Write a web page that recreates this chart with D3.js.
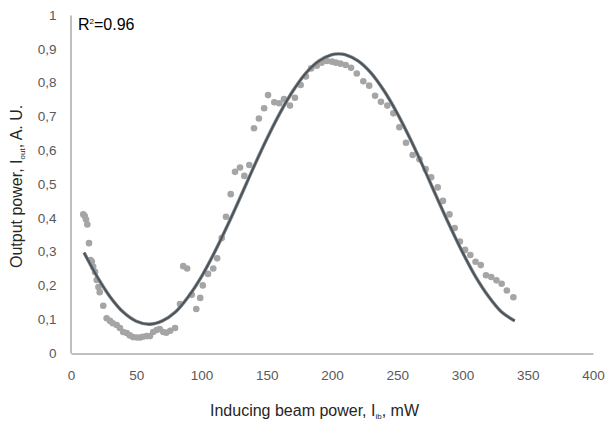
<!DOCTYPE html>
<html>
<head>
<meta charset="utf-8">
<script src="https://cdn.jsdelivr.net/npm/d3@7"></script>
<style>
  body { margin: 0; background: #fff; }
  svg { font-family: "Liberation Sans", Arial, sans-serif; }
</style>
</head>
<body>
<svg id="chart" width="606" height="423"></svg>
<script>
// measured points (inducing beam power, mW)
const xVals = [9.4, 10.5, 11.5, 12.5, 13.8, 15, 16, 17, 18.4, 19.7, 21, 22, 24.7, 27.3, 29.9, 32, 35, 37.5, 40, 42.7,
  45, 47.5, 50.5, 53, 55, 58, 60.5, 63, 65.7, 68, 70.7, 73, 76, 79.7, 83.5, 86, 89, 92.5, 96, 99,
  101, 105, 109, 112, 115.5, 118.8, 122.4, 125.7, 129.5, 132.8, 136.6, 140.2, 144, 148, 151, 155.8, 159.6, 163.2, 167.8, 171.6,
  176, 180, 184, 188.3, 192, 196, 200, 203, 206.5, 210.5, 214.6, 219, 224, 228.5, 233, 237.5, 242.4, 247, 251.6, 256.7,
  261.8, 267, 271.8, 276, 281, 285, 290, 294, 298, 302, 306, 310, 314, 318, 322, 326, 330, 334, 339];
// measured output power, A. U.
const yVals = [0.41, 0.405, 0.395, 0.38, 0.325, 0.275, 0.27, 0.255, 0.24, 0.216, 0.195, 0.18, 0.14, 0.103, 0.095, 0.088, 0.083, 0.074, 0.062, 0.059,
  0.052, 0.047, 0.046, 0.046, 0.048, 0.05, 0.05, 0.062, 0.068, 0.071, 0.062, 0.06, 0.066, 0.074, 0.145, 0.257, 0.25, 0.172, 0.13, 0.163,
  0.2, 0.234, 0.25, 0.28, 0.34, 0.403, 0.47, 0.536, 0.549, 0.524, 0.556, 0.665, 0.694, 0.724, 0.763, 0.742, 0.739, 0.751, 0.732, 0.755,
  0.793, 0.818, 0.842, 0.85, 0.859, 0.864, 0.862, 0.859, 0.856, 0.852, 0.844, 0.827, 0.804, 0.791, 0.761, 0.743, 0.732, 0.709, 0.668, 0.622,
  0.586, 0.573, 0.544, 0.52, 0.49, 0.45, 0.41, 0.37, 0.33, 0.305, 0.29, 0.27, 0.26, 0.23, 0.225, 0.215, 0.205, 0.185, 0.165];

// fitted trend line
const fitX = [10, 20, 30, 40, 50, 60, 70, 80, 90, 100, 110, 120, 130, 140, 150, 160, 170, 180, 190, 200, 205,
  210, 220, 230, 240, 250, 260, 270, 280, 290, 300, 310, 320, 330, 340];
const fitY = [0.297, 0.226, 0.166, 0.121, 0.094, 0.085, 0.095, 0.121, 0.167, 0.226, 0.298, 0.378, 0.463, 0.550, 0.633, 0.709, 0.775, 0.828, 0.864, 0.883, 0.885,
  0.883, 0.864, 0.828, 0.775, 0.709, 0.633, 0.550, 0.463, 0.378, 0.298, 0.226, 0.167, 0.121, 0.095];

const xTicks = [0, 50, 100, 150, 200, 250, 300, 350, 400];
const yTicks = [0, 0.1, 0.2, 0.3, 0.4, 0.5, 0.6, 0.7, 0.8, 0.9, 1];

const svg = d3.select("#chart");

var xScale = d3.scaleLinear().domain([0, 400]).range([71, 593]);
var yScale = d3.scaleLinear().domain([0, 1]).range([353, 15]);

// ###########################################
// axes
svg.append("g")
  .attr("class", "x_axis")
  .attr("transform", "translate(0,353.5)")
  .call(d3.axisBottom(xScale).tickValues(xTicks).tickSize(0).tickPadding(16.5))
  .call(g => g.select(".domain").attr("stroke", "#bfbfbf").attr("stroke-width", 2))
  .selectAll("text")
  .style("font-size", "13.5px")
  .attr("fill", "#595959");

svg.append("g")
  .attr("class", "y_axis")
  .attr("transform", "translate(70.5,0)")
  .call(d3.axisLeft(yScale).tickValues(yTicks).tickSize(0).tickPadding(14)
    .tickFormat(d => String(d).replace(".", ",")))
  .call(g => g.select(".domain").attr("stroke", "#bfbfbf").attr("stroke-width", 2))
  .selectAll("text")
  .style("font-size", "13.5px")
  .attr("fill", "#595959");

// ###########################################
// data points
const pts = xVals.map((x, i) => ({x: x, y: yVals[i]}));
svg.selectAll("circle.pt")
  .data(pts)
  .join("circle")
    .attr("class", "pt")
    .attr("cx", d => xScale(d.x))
    .attr("cy", d => yScale(d.y))
    .attr("r", 3.3)
    .attr("fill", "#a5a5a5");

// trend line
const fit = fitX.map((x, i) => ({x: x, y: fitY[i]}));
const line = d3.line().x(d => xScale(d.x)).y(d => yScale(d.y)).curve(d3.curveCatmullRom);
svg.append("path").datum(fit)
  .attr("d", line)
  .attr("fill", "none")
  .attr("stroke", "#7d858b")
  .attr("stroke-width", 3.4);
svg.append("path").datum(fit)
  .attr("d", line)
  .attr("fill", "none")
  .attr("stroke", "#4a5258")
  .attr("stroke-width", 1.8);

// R2 label
const r2 = svg.append("text").attr("x", 78).attr("y", 30).style("font-size", "16px").attr("fill", "#000");
r2.append("tspan").text("R");
r2.append("tspan").attr("dy", -6).style("font-size", "8px").text("2");
r2.append("tspan").attr("dy", 6).text("=0.96");

// axis titles
const yt = svg.append("text")
  .attr("transform", "translate(22,268) rotate(-90)")
  .attr("text-anchor", "start")
  .style("font-size", "16px")
  .attr("fill", "#262626");
yt.append("tspan").text("Output power, I");
yt.append("tspan").attr("dy", 3).style("font-size", "8px").text("out");
yt.append("tspan").attr("dy", -3).text(", A. U.");

const xt = svg.append("text")
  .attr("x", 210).attr("y", 416)
  .attr("text-anchor", "start")
  .style("font-size", "16px")
  .attr("fill", "#262626");
xt.append("tspan").text("Inducing beam power, I");
xt.append("tspan").attr("dy", 3).style("font-size", "8px").text("ib");
xt.append("tspan").attr("dy", -3).text(", mW");
</script>
</body>
</html>
